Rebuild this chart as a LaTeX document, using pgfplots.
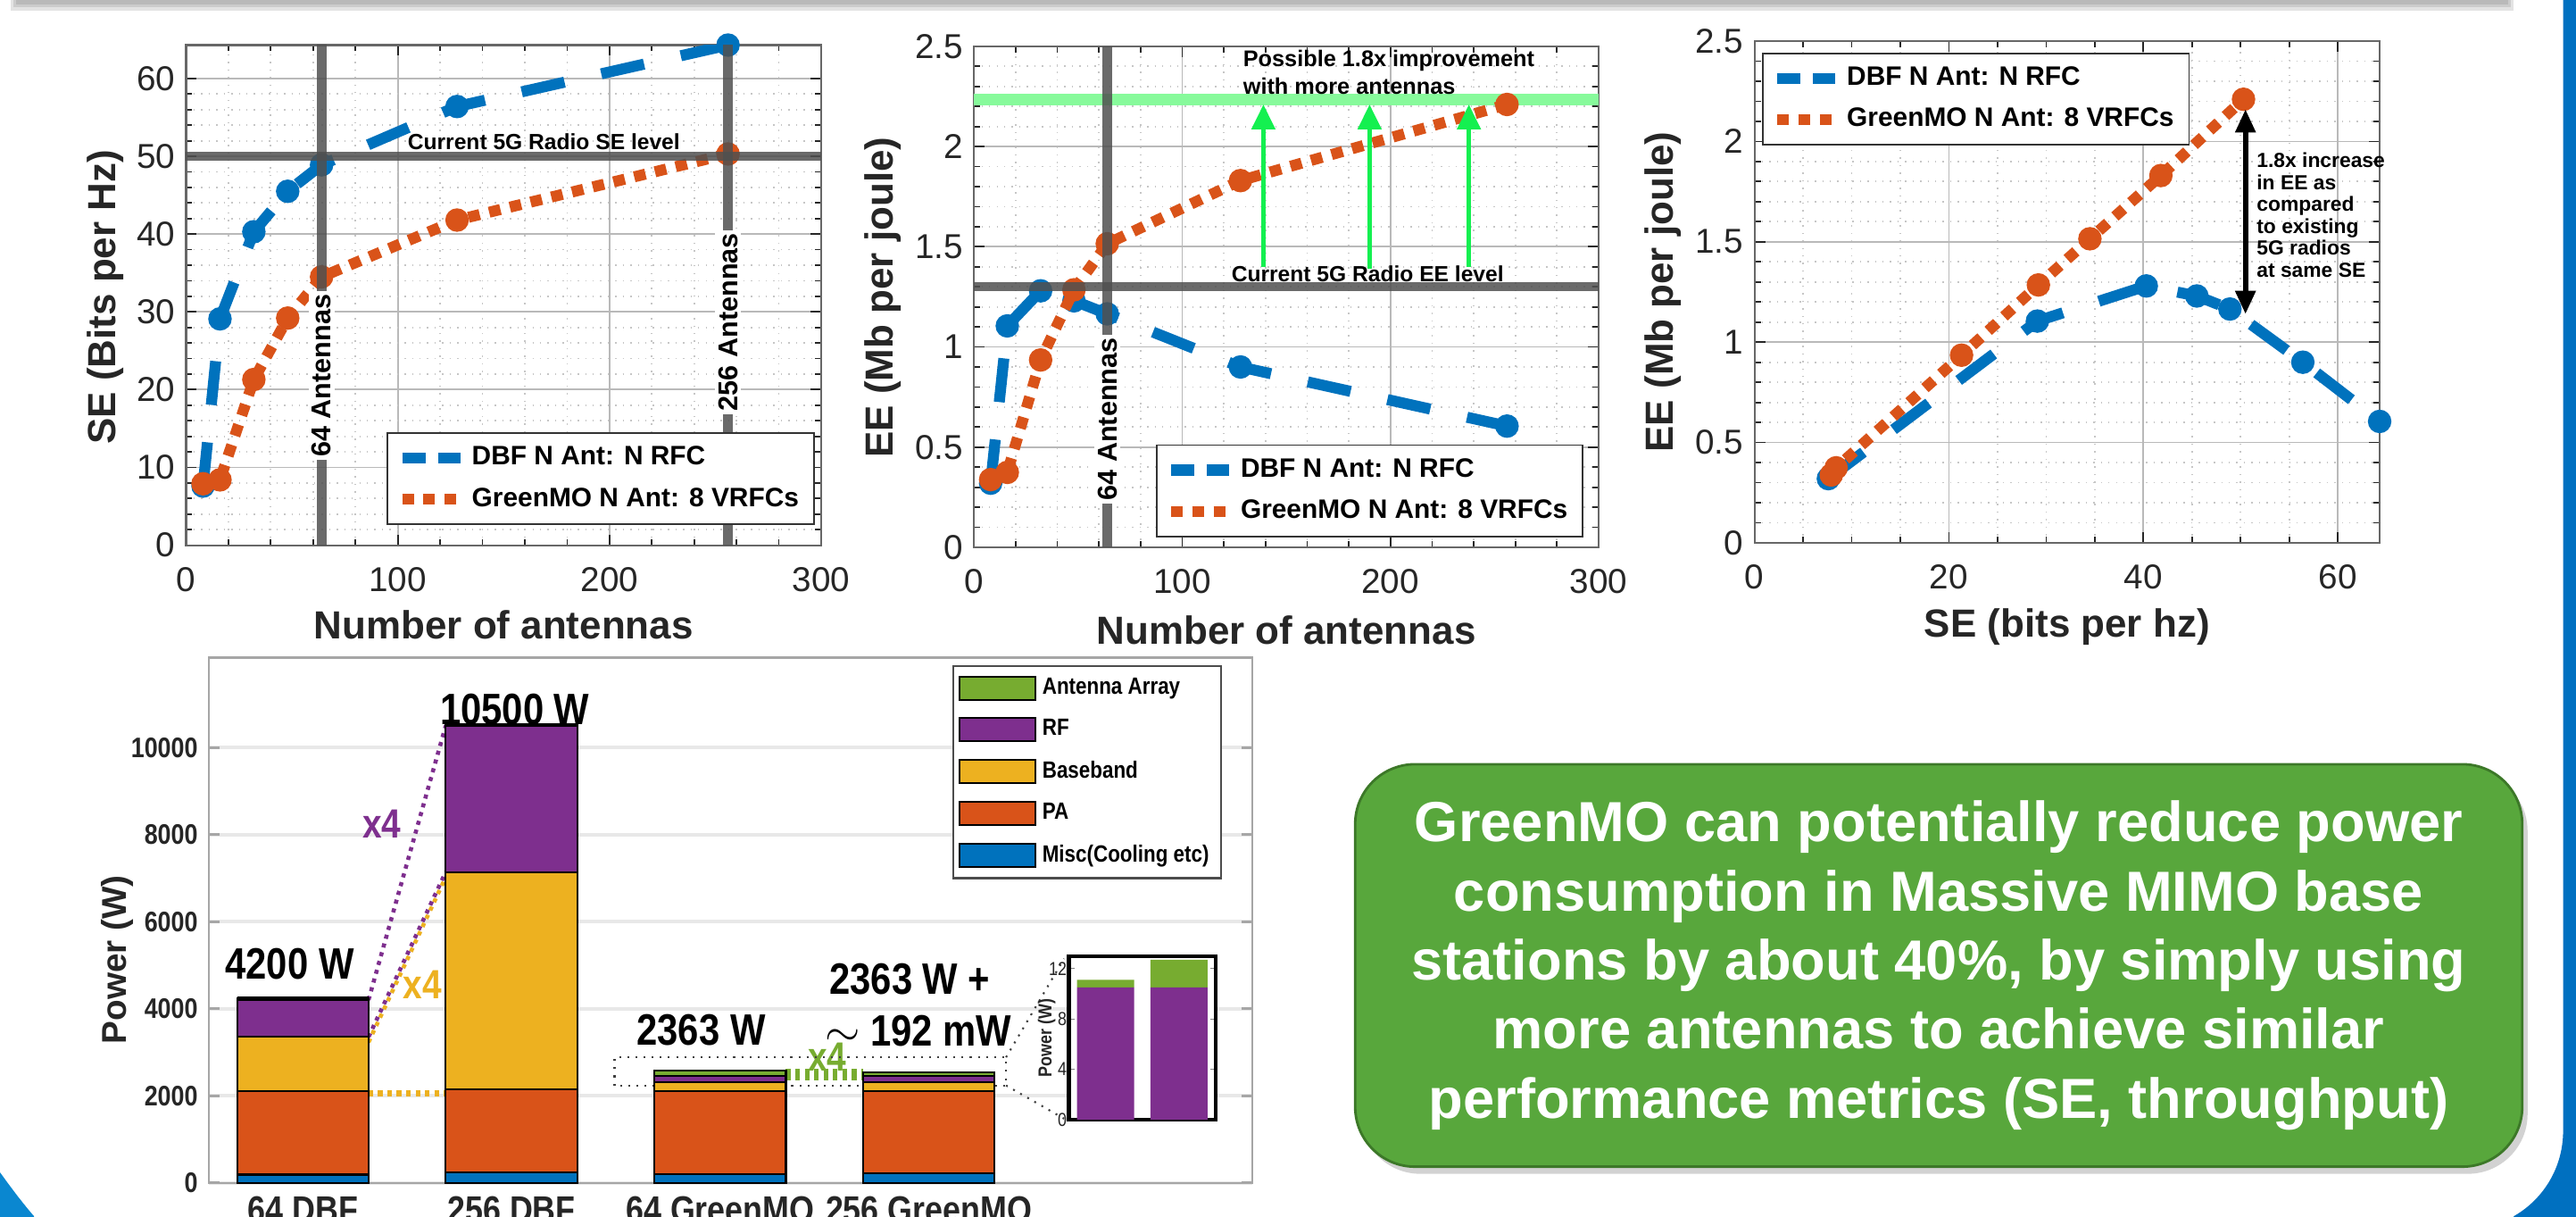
\documentclass[border=0pt]{standalone}
\usepackage{fontspec}
\setmainfont{Liberation Sans}
\newfontfamily\condfont[FakeStretch=0.85]{Liberation Sans}
\usepackage{pgfplots}
\pgfplotsset{compat=1.18}
\usetikzlibrary{arrows.meta,shadows}
\definecolor{mblue}{RGB}{0,114,189}
\definecolor{morange}{RGB}{217,83,25}
\definecolor{myellow}{RGB}{237,177,32}
\definecolor{mpurple}{RGB}{126,47,142}
\definecolor{mgreen}{RGB}{119,172,48}
\definecolor{axgray}{RGB}{38,38,38}
\definecolor{refline}{RGB}{80,80,80}
\definecolor{boxgreen}{RGB}{88,167,60}
\definecolor{boxedge}{RGB}{60,120,40}
\definecolor{slideblue}{RGB}{0,112,192}
\definecolor{slideblue2}{RGB}{10,135,208}
\definecolor{palegreen}{RGB}{135,250,155}
\definecolor{arrowgreen}{RGB}{20,240,80}
\newcommand{\fs}[1]{\fontsize{#1}{#1}\selectfont}
\tikzset{reflines/.style={refline, line width=3pt, opacity=0.85},
  garrow/.style={arrowgreen, line width=1.4pt, -{Triangle[width=2.6mm,length=2.8mm]}}}
\pgfplotsset{
  matlab/.style={
    scale only axis, clip mode=individual,
    axis line style={draw=axgray!70, line width=0.6pt},
    tick style={draw=axgray, line width=0.5pt},
    tick align=inside,
    major tick length=1.2mm, minor tick length=0.7mm,
    grid=both,
    major grid style={draw=gray!55, line width=0.5pt},
    minor grid style={draw=gray!45, dotted, line width=0.5pt},
    /pgf/number format/assume math mode=true,
    ticklabel style={font=\fs{11}, text=axgray},
    label style={font=\bfseries\fs{12.5}, text=axgray},
    legend style={font=\bfseries\fs{8.5}, draw=black!80, line width=0.5pt, fill=white, inner xsep=1mm, inner ysep=0.8mm, row sep=0.6mm},
    legend cell align=left,
    legend image code/.code={\draw[##1] (0mm,0mm) -- (6.5mm,0mm);},
  },
  dbf/.style={mblue, line width=3.5pt, dash pattern=on 14pt off 12pt, mark=*, mark size=3.5pt, mark options={solid, fill=mblue, draw=mblue, line width=0.5pt}},
  gmo/.style={morange, line width=3.5pt, dash pattern=on 3.7pt off 3.1pt, mark=*, mark size=3.5pt, mark options={solid, fill=morange, draw=morange, line width=0.5pt}},
}
\begin{document}
\begin{tikzpicture}
\path[use as bounding box] (0,0) rectangle (288.6mm,136.2mm);
\clip (0,0) rectangle (288.6mm,136.2mm);
\fill[white] (0,0) rectangle (288.6mm,136.2mm);
\begin{scope}[x=0.1mm, y=-0.1mm, shift={(0,136.2mm)}]
  \fill[gray!22] (12,0) rectangle (2816,12);
  \fill[gray!40] (15,0) rectangle (2813,8);
  \fill[gray!55] (18,0) rectangle (2810,5);
  \fill[slideblue] (2890,-5) -- (2871.5,-5) -- (2871.5,1267) arc[start angle=0, end angle=60, radius=109.5] -- (2810,1370) -- (2890,1370) -- cycle;
  \fill[slideblue2] (-5,1313) -- (0,1313) .. controls (13,1331) and (25,1347) .. (38,1362) -- (38,1370) -- (-5,1370) -- cycle;
\end{scope}

% ---------- Plot 1 ----------
\begin{axis}[matlab, at={(20.85mm,75.14mm)}, anchor=south west, width=71.15mm, height=56.01mm,
  xmin=0, xmax=300, ymin=0, ymax=64.3, xtick={0,100,200,300}, ytick={0,10,...,60},
  minor x tick num=4, minor y tick num=4,
  xlabel={Number of antennas}, ylabel={SE (Bits per Hz)},
  xlabel style={at={(axis description cs:0.5,-0.159)}, anchor=center},
  ylabel style={at={(axis description cs:-0.127,0.496)}, anchor=center},
  xticklabel style={yshift=-1.2mm},
  legend style={at={(0.990,0.040)}, anchor=south east},
]
\addplot[dbf, forget plot] coordinates {(8,7.6)(16,29.1)(32,40.3)(48,45.5)(64,48.9)(128,56.4)(256,64.3)};
\addplot[gmo, forget plot] coordinates {(8,7.9)(16,8.4)(32,21.3)(48,29.2)(64,34.5)(128,41.8)(256,50.3)};
\draw[reflines] (axis cs:0,50) -- (axis cs:300,50);
\draw[reflines] (axis cs:64,0) -- (axis cs:64,64.3);
\draw[reflines] (axis cs:256,0) -- (axis cs:256,64.3);
\node[fill=white, inner sep=1pt, rotate=90, font=\bfseries\fs{8.7}] at (axis cs:64,21.8) {64 Antennas};
\node[fill=white, inner sep=1pt, rotate=90, font=\bfseries\fs{8.7}] at (axis cs:256,28.7) {256 Antennas};
\node[anchor=base, font=\bfseries\fs{7}, inner sep=0pt] at (axis cs:169,50.9) {Current 5G Radio SE level};
\addlegendimage{mblue, line width=3.5pt, dash pattern=on 2.6mm off 1.4mm}
\addlegendentry{DBF N Ant: N RFC}
\addlegendimage{morange, line width=3.5pt, dash pattern=on 3.7pt off 3.1pt}
\addlegendentry{GreenMO N Ant: 8 VRFCs}
\end{axis}

% ---------- Plot 2 ----------
\begin{axis}[matlab, at={(109.12mm,74.9mm)}, anchor=south west, width=69.98mm, height=56.11mm,
  xmin=0, xmax=300, ymin=0, ymax=2.5, xtick={0,100,200,300}, ytick={0,0.5,...,2.5},
  minor x tick num=4, minor y tick num=4,
  xlabel={Number of antennas}, ylabel={EE (Mb per joule)},
  xlabel style={at={(axis description cs:0.5,-0.166)}, anchor=center},
  ylabel style={at={(axis description cs:-0.1455,0.499)}, anchor=center},
  xticklabel style={yshift=-1.2mm},
  legend style={at={(0.976,0.020)}, anchor=south east},
]
\draw[palegreen, line width=3.5pt] (axis cs:0,2.234) -- (axis cs:300,2.234);
\addplot[dbf, forget plot] coordinates {(8,0.32)(16,1.105)(32,1.28)(48,1.23)(64,1.165)(128,0.90)(256,0.605)};
\addplot[gmo, forget plot] coordinates {(8,0.338)(16,0.374)(32,0.935)(48,1.285)(64,1.515)(128,1.83)(256,2.21)};
\draw[reflines] (axis cs:0,1.3) -- (axis cs:300,1.3);
\draw[reflines] (axis cs:64,0) -- (axis cs:64,2.5);
\node[fill=white, inner sep=1pt, rotate=90, font=\bfseries\fs{8.7}] at (axis cs:64,0.64) {64 Antennas};
\draw[garrow] (axis cs:139,1.40) -- (axis cs:139,2.21);
\draw[garrow] (axis cs:190,1.39) -- (axis cs:190,2.21);
\draw[garrow] (axis cs:237.7,1.40) -- (axis cs:237.7,2.21);
\node[anchor=base west, font=\bfseries\fs{7.2}, inner sep=0pt] at (axis cs:129,2.40) {Possible 1.8x improvement};
\node[anchor=base west, font=\bfseries\fs{7.2}, inner sep=0pt] at (axis cs:129,2.26) {with more antennas};
\node[anchor=base west, font=\bfseries\fs{7}, inner sep=0pt] at (axis cs:123.4,1.325) {Current 5G Radio EE level};
\addlegendimage{mblue, line width=3.5pt, dash pattern=on 2.6mm off 1.4mm}
\addlegendentry{DBF N Ant: N RFC}
\addlegendimage{morange, line width=3.5pt, dash pattern=on 3.7pt off 3.1pt}
\addlegendentry{GreenMO N Ant: 8 VRFCs}
\end{axis}

% ---------- Plot 3 ----------
\begin{axis}[matlab, at={(196.56mm,75.4mm)}, anchor=south west, width=70.04mm, height=56.2mm,
  xmin=0, xmax=64.3, ymin=0, ymax=2.5, xtick={0,20,40,60}, ytick={0,0.5,...,2.5},
  minor x tick num=3, minor y tick num=4,
  xlabel={SE (bits per hz)}, ylabel={EE (Mb per joule)},
  xlabel style={at={(axis description cs:0.5,-0.167)}, anchor=center},
  ylabel style={at={(axis description cs:-0.1465,0.5)}, anchor=center},
  xticklabel style={yshift=-1.2mm},
  legend style={at={(0.012,0.977)}, anchor=north west},
]
\addplot[dbf, forget plot] coordinates {(7.6,0.32)(29.1,1.105)(40.3,1.28)(45.5,1.23)(48.9,1.165)(56.4,0.90)(64.3,0.605)};
\addplot[gmo, forget plot] coordinates {(7.9,0.338)(8.4,0.374)(21.3,0.935)(29.2,1.285)(34.5,1.515)(41.8,1.83)(50.3,2.21)};
\draw[black, line width=1.6pt, {Triangle[width=2.2mm,length=2.6mm]}-{Triangle[width=2.2mm,length=2.6mm]}] (axis cs:50.5,1.14) -- (axis cs:50.5,2.16);
\node[anchor=west, align=left, font=\bfseries\fontsize{6.5}{7}\selectfont, inner sep=0pt] at (axis cs:51.6,1.633) {1.8x increase\\in EE as\\compared\\to existing\\5G radios\\at same SE};
\addlegendimage{mblue, line width=3.5pt, dash pattern=on 2.6mm off 1.4mm}
\addlegendentry{DBF N Ant: N RFC}
\addlegendimage{morange, line width=3.5pt, dash pattern=on 3.7pt off 3.1pt}
\addlegendentry{GreenMO N Ant: 8 VRFCs}
\end{axis}

% ---------- Bar chart ----------
\begin{axis}[scale only axis, clip=false,
  at={(23.4mm,3.72mm)}, anchor=south west, width=116.9mm, height=58.81mm,
  ybar stacked, bar width=0.63,
  xmin=0.55, xmax=5.55, ymin=0, ymax=12060,
  xtick={1,2,3,4}, xticklabels={64 DBF,256 DBF,64 GreenMO,256 GreenMO},
  xtick style={draw=none},
  ytick={0,2000,4000,6000,8000,10000},
  scaled y ticks=false,
  /pgf/number format/assume math mode=true,
  /pgf/number format/1000 sep={},
  yticklabel style={font=\condfont\bfseries\fs{9}, text=axgray},
  xticklabel style={font=\condfont\bfseries\fs{12}, text=axgray, yshift=-0.3mm},
  ymajorgrids, major grid style={draw=gray!18, line width=1.2pt},
  tick align=inside, major tick length=1.2mm,
  ytick style={draw=gray!70, line width=0.8pt},
  axis line style={draw=gray!70, line width=0.7pt},
  ylabel={Power (W)},
  ylabel style={font=\bfseries\fs{11}, text=axgray, at={(axis description cs:-0.088,0.425)}, anchor=center},
  reverse legend,
  legend style={at={(0.9706,0.9856)}, anchor=north east, font=\condfont\bfseries\fs{7.5}, draw=black!70, line width=0.6pt, inner xsep=0.6mm, inner ysep=0.6mm, row sep=0.9mm, cells={anchor=west}},
  legend image code/.code={\draw[#1,/tikz/.cd,draw=black,line width=0.6pt] (0mm,-1.3mm) rectangle (8.5mm,1.3mm);},
]
\addplot[fill=mblue, draw=black, line width=0.6pt] coordinates {(1,190)(2,240)(3,200)(4,230)};
\addlegendentry{Misc(Cooling etc)}
\addplot[fill=morange, draw=black, line width=0.6pt] coordinates {(1,1920)(2,1900)(3,1915)(4,1880)};
\addlegendentry{PA}
\addplot[fill=myellow, draw=black, line width=0.6pt] coordinates {(1,1240)(2,5000)(3,205)(4,210)};
\addlegendentry{Baseband}
\addplot[fill=mpurple, draw=black, line width=0.6pt] coordinates {(1,850)(2,3360)(3,135)(4,130)};
\addlegendentry{RF}
\addplot[fill=mgreen, draw=black, line width=0.6pt] coordinates {(1,30)(2,30)(3,125)(4,90)};
\addlegendentry{Antenna Array}
\draw[black, line width=1.6pt] (axis cs:0.685,4215) -- (axis cs:1.315,4215);
\draw[mpurple, line width=1.3pt, dash pattern=on 1.3pt off 1.6pt] (axis cs:1.315,4200) -- (axis cs:1.685,10500);
\draw[mpurple, line width=1.3pt, dash pattern=on 1.3pt off 1.6pt] (axis cs:1.315,3350) -- (axis cs:1.685,7140);
\draw[myellow, line width=1.3pt, dash pattern=on 1.3pt off 1.6pt] (axis cs:1.315,3230) -- (axis cs:1.685,7020);
\draw[myellow, line width=2pt, dash pattern=on 1.5pt off 1.5pt] (axis cs:1.315,2060) -- (axis cs:1.685,2060);
\draw[mgreen, line width=2.2pt, dash pattern=on 1.5pt off 1.5pt] (axis cs:3.315,2545) -- (axis cs:3.685,2545);
\draw[mgreen, line width=2.2pt, dash pattern=on 1.5pt off 1.5pt] (axis cs:3.315,2436) -- (axis cs:3.685,2436);
\draw[black!75, line width=0.6pt, dotted] (axis cs:2.494,2238) rectangle (axis cs:4.37,2884);
\draw[black!75, line width=0.6pt, dotted] (axis cs:4.37,2884) -- (axis cs:4.648,5150);
\draw[black!75, line width=0.6pt, dotted] (axis cs:4.37,2238) -- (axis cs:4.648,1475);
\node[inner sep=0pt, font=\condfont\bfseries\fs{14}] at (axis cs:0.937,5021) {4200 W};
\node[inner sep=0pt, font=\condfont\bfseries\fs{14}] at (axis cs:2.016,10866) {10500 W};
\node[inner sep=0pt, font=\condfont\bfseries\fs{14}] at (axis cs:2.909,3507) {2363 W};
\node[inner sep=0pt, font=\condfont\bfseries\fs{14}] at (axis cs:3.909,4680) {2363 W +};
\node[inner sep=0pt, font=\condfont\bfseries\fs{14}] at (axis cs:3.95,3500) {$\sim$ 192 mW};
\node[inner sep=0pt, font=\condfont\bfseries\fs{13}, text=mpurple] at (axis cs:1.379,8251) {x4};
\node[inner sep=0pt, font=\condfont\bfseries\fs{13}, text=myellow] at (axis cs:1.573,4545) {x4};
\node[inner sep=0pt, font=\condfont\bfseries\fs{13}, text=mgreen] at (axis cs:3.514,2890) {x4};
\end{axis}

% ---------- Inset ----------
\begin{axis}[scale only axis,
  at={(119.75mm,10.81mm)}, anchor=south west, width=16.45mm, height=18.32mm,
  axis background/.style={fill=white},
  ybar stacked, bar width=0.78,
  xmin=0.5, xmax=2.5, ymin=0, ymax=13,
  xtick=\empty, ytick={0,4,8,12},
  tick align=inside, major tick length=0.6mm,
  axis line style={draw=black, line width=1.2pt},
  /pgf/number format/assume math mode=true,
  yticklabel style={font=\condfont\fs{6}, text=axgray, inner sep=0.5pt},
  ylabel={Power (W)},
  ylabel style={font=\condfont\bfseries\fs{6}, text=axgray, at={(axis description cs:-0.151,0.5)}, anchor=center},
]
\addplot[fill=mpurple, draw=none] coordinates {(1,10.5)(2,10.5)};
\addplot[fill=mgreen, draw=none] coordinates {(1,0.6)(2,2.2)};
\end{axis}

% ---------- Green text box ----------
\node[draw=boxedge, line width=0.8pt, fill=boxgreen, rounded corners=6.7mm,
  minimum width=130.75mm, minimum height=45.07mm,
  drop shadow={opacity=0.35, shadow xshift=0.6mm, shadow yshift=-0.8mm}] at (217.2mm,28.07mm) {};
\node[text=white, font=\bfseries\fontsize{18}{22}\selectfont, align=center] at (217.2mm,28.07mm)
  {GreenMO can potentially reduce power\\consumption in Massive MIMO base\\stations by about 40\%, by simply using\\more antennas to achieve similar\\performance metrics (SE, throughput)};
\end{tikzpicture}
\end{document}
